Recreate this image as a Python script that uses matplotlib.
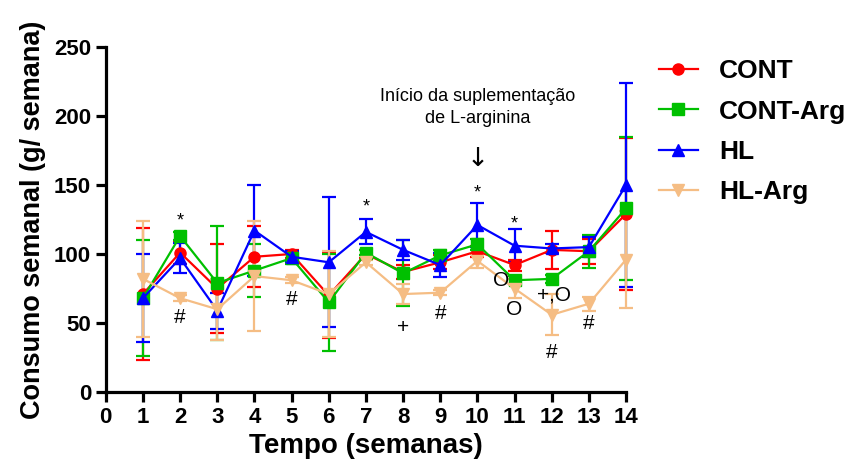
import matplotlib.pyplot as plt
from matplotlib.lines import Line2D

plt.rcParams['font.family'] = ['Liberation Sans', 'DejaVu Sans']

semanas = [1, 2, 3, 4, 5, 6, 7, 8, 9, 10, 11, 12, 13, 14]

cont = [71, 101, 75, 98, 100, 70, 100, 87, 94, 102, 92, 103, 102, 129]
cont_err = [48, 8, 32, 22, 3, 31, 3, 5, 5, 4, 4, 14, 9, 55]

cont_arg = [68, 113, 79, 88, 97, 65, 101, 86, 99, 107, 81, 82, 102, 133]
cont_arg_err = [42, 3, 41, 19, 4, 35, 2, 24, 4, 4, 3, 3, 12, 52]

hl = [68, 97, 59, 117, 98, 94, 116, 103, 92, 121, 106, 104, 105, 150]
hl_err = [32, 11, 13, 33, 4, 47, 9, 7, 9, 16, 12, 3, 7, 74]

hl_arg = [82, 68, 60, 84, 81, 71, 94, 71, 72, 95, 75, 56, 64, 96]
hl_arg_err = [42, 2, 22, 40, 2, 31, 2, 7, 2, 5, 7, 15, 5, 35]

series = [
    ("CONT", cont, cont_err, "#ff0000", "o"),
    ("CONT-Arg", cont_arg, cont_arg_err, "#00c000", "s"),
    ("HL", hl, hl_err, "#0000ff", "^"),
    ("HL-Arg", hl_arg, hl_arg_err, "#f5bd84", "v"),
]

# significance marks: (x, y, text)
marcas = [
    (2, 124, "*"), (7, 134, "*"), (10, 144, "*"), (11, 122, "*"),
    (2, 54, "#"), (5, 67, "#"), (9, 57, "#"), (12, 29, "#"), (13, 50, "#"),
    (8, 47, "+"), (10.65, 81, "O"), (11.0, 60, "O"), (12.05, 70, "+,O"),
]

fig = plt.figure(figsize=(8.6, 4.73), dpi=100)
ax = fig.add_axes([0.123, 0.171, 0.605, 0.730])

handles = []
for nome, vals, err, cor, mk in series:
    ax.errorbar(semanas, vals, yerr=err, color=cor, marker=mk, markersize=8,
                linewidth=1.6, elinewidth=1.6, capsize=5, capthick=1.6,
                clip_on=False)
    handles.append(Line2D([], [], color=cor, marker=mk, markersize=8,
                          linewidth=1.6, label=nome))

for xm, ym, txt in marcas:
    fs = 13 if txt == "*" else 15
    ax.text(xm, ym, txt, ha="center", va="center", fontsize=fs, color="black")

ax.text(10, 214, "Início da suplementação", ha="center", va="center", fontsize=13)
ax.text(10, 198, "de L-arginina", ha="center", va="center", fontsize=13)
ax.text(10, 169, "\u2193", ha="center", va="center", fontsize=19,
        family="DejaVu Sans")

ax.set_xlim(0, 14)
ax.set_ylim(0, 250)
ax.set_xticks(range(0, 15))
ax.set_yticks([0, 50, 100, 150, 200, 250])
ax.spines["top"].set_visible(False)
ax.spines["right"].set_visible(False)
ax.spines["left"].set_linewidth(2.3)
ax.spines["bottom"].set_linewidth(2.3)
ax.tick_params(axis="both", direction="out", width=2.3, length=7.5,
               labelsize=16, pad=3)
for lbl in ax.get_xticklabels() + ax.get_yticklabels():
    lbl.set_fontweight("bold")

ax.set_xlabel("Tempo (semanas)", fontsize=20, fontweight="bold", labelpad=4)
ax.set_ylabel("Consumo semanal (g/ semana)", fontsize=19.5, fontweight="bold",
              labelpad=6)

ax.legend(handles=handles, loc="upper left", bbox_to_anchor=(1.017, 1.033),
          frameon=False, prop={"weight": "bold", "size": 19},
          handlelength=1.5, labelspacing=0.62, handletextpad=0.8)

plt.savefig("out.png", dpi=100)
